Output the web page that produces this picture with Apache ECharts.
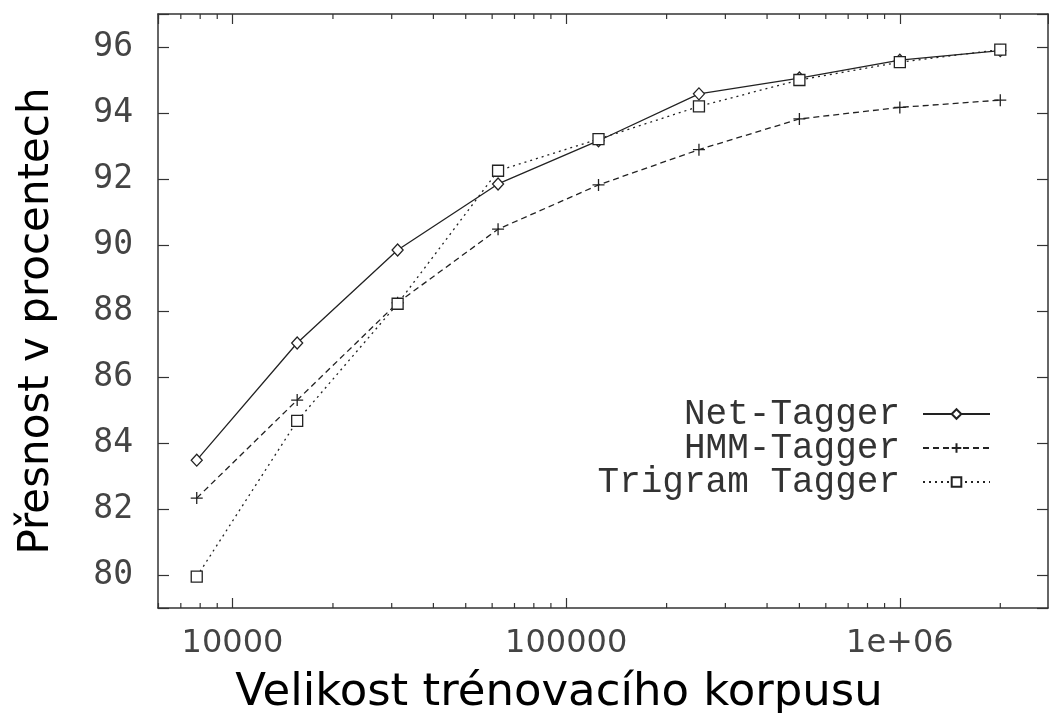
<!DOCTYPE html>
<html>
<head>
<meta charset="utf-8">
<script src="https://cdn.jsdelivr.net/npm/echarts@6/dist/echarts.min.js"></script>
<style>
  html, body { margin: 0; padding: 0; background: #fff; }
  #chart { width: 1049px; height: 713px; }
</style>
</head>
<body>
<div id="chart"></div>
<script>
// velikost korpusu (pocet slov)
var corpusSizes = [7812.5, 15625, 31250, 62500, 125000, 250000, 500000, 1000000, 2000000];
var netTagger = [83.48, 87.03, 89.85, 91.85, 93.16, 94.58, 95.06, 95.6, 95.89];
var hmmTagger = [82.33, 85.3, 88.25, 90.48, 91.82, 92.89, 93.82, 94.17, 94.39];
var trigramTagger = [79.95, 84.67, 88.22, 92.25, 93.21, 94.2, 95.0, 95.54, 95.92];

var xTickValues = [10000, 100000, 1000000];
var xTickLabels = ['10000', '100000', '1e+06'];
var xMinorTicks = [6000, 7000, 8000, 9000, 20000, 30000, 40000, 50000, 60000, 70000, 80000, 90000,
    200000, 300000, 400000, 500000, 600000, 700000, 800000, 900000, 2000000];
var yTickValues = [80, 82, 84, 86, 88, 90, 92, 94, 96];

var xMin = 5980, xMax = 2780000;
var yMin = 79, yMax = 97;

function pairs(vals) {
    return corpusSizes.map(function (s, i) { return [s, vals[i]]; });
}

var axisColor = '#333';
var lineColor = '#222';

var chart = echarts.init(document.getElementById('chart'));

var xAxisBase = {
    type: 'log',
    logBase: 10,
    min: xMin,
    max: xMax,
    splitLine: { show: false },
    axisLine: { show: true, lineStyle: { color: axisColor, width: 1.5 } },
    axisTick: { show: true, inside: true, length: 10, lineStyle: { color: axisColor, width: 1.2 } }
};
var yAxisBase = {
    type: 'value',
    min: yMin,
    max: yMax,
    splitNumber: 9,
    splitLine: { show: false },
    axisLine: { show: true, lineStyle: { color: axisColor, width: 1.5 } },
    axisTick: { show: true, inside: true, length: 11, lineStyle: { color: axisColor, width: 1.2 } }
};

var option = {
    animation: false,
    backgroundColor: '#fff',
    grid: { left: 158, right: 1, top: 14, bottom: 105, containLabel: false, outerBoundsMode: 'none' },
    xAxis: [
        Object.assign({}, xAxisBase, {
            position: 'bottom',
            name: 'Velikost trénovacího korpusu',
            nameLocation: 'middle',
            nameGap: 63,
            nameTextStyle: { fontFamily: 'DejaVu Sans', fontSize: 45, color: '#000', padding: [0, 88, 0, 0] },
            axisLabel: {
                show: true,
                margin: 20,
                fontFamily: 'DejaVu Sans',
                fontSize: 32,
                color: '#444',
                showMinLabel: false,
                showMaxLabel: false,
                formatter: function (v) {
                    for (var i = 0; i < xTickValues.length; i++) {
                        if (Math.abs(v - xTickValues[i]) < 1e-6 * xTickValues[i]) return xTickLabels[i];
                    }
                    return '';
                }
            }
        }),
        Object.assign({}, xAxisBase, {
            position: 'top',
            axisLabel: { show: false }
        })
    ],
    yAxis: [
        Object.assign({}, yAxisBase, {
            position: 'left',
            name: 'Přesnost v procentech',
            nameLocation: 'middle',
            nameGap: 100,
            nameTextStyle: { fontFamily: 'DejaVu Sans', fontSize: 42, color: '#000', padding: [0, 20, 0, 0] },
            axisLabel: {
                margin: 25,
                fontFamily: 'DejaVu Sans Mono',
                fontSize: 33,
                color: '#444',
                formatter: function (v) {
                    return yTickValues.indexOf(v) >= 0 ? String(v) : '';
                }
            }
        }),
        Object.assign({}, yAxisBase, {
            position: 'right',
            axisLabel: { show: false }
        })
    ],
    legend: {
        orient: 'vertical',
        right: 53,
        top: 391,
        align: 'right',
        itemWidth: 67,
        itemHeight: 12,
        itemGap: -2,
        data: ['Net-Tagger', 'HMM-Tagger', 'Trigram Tagger'],
        textStyle: {
            fontFamily: 'Liberation Mono',
            fontSize: 36,
            lineHeight: 33,
            color: '#333',
            padding: [0, 18, 0, 0]
        }
    },
    series: [
        {
            name: 'Net-Tagger',
            type: 'line',
            data: pairs(netTagger),
            symbol: 'diamond',
            symbolSize: [11, 12],
            lineStyle: { color: lineColor, width: 1.3, type: 'solid' },
            itemStyle: { color: '#fff', borderColor: lineColor, borderWidth: 1.3 },
            z: 3
        },
        {
            name: 'HMM-Tagger',
            type: 'line',
            data: pairs(hmmTagger),
            symbol: 'path://M0,-1L0,1M-1,0L1,0',
            symbolSize: 12,
            lineStyle: { color: lineColor, width: 1.3, type: [6, 4] },
            itemStyle: { color: '#fff', borderColor: lineColor, borderWidth: 1.3 },
            z: 2
        },
        {
            name: 'Trigram Tagger',
            type: 'line',
            data: pairs(trigramTagger),
            symbol: 'rect',
            symbolSize: 11,
            lineStyle: { color: lineColor, width: 1.3, type: [2, 4] },
            itemStyle: { color: '#fff', borderColor: lineColor, borderWidth: 1.3 },
            z: 4
        },
        {
            // vedlejsi znacky na logaritmicke ose
            type: 'custom',
            silent: true,
            xAxisIndex: 0,
            yAxisIndex: 0,
            data: xMinorTicks.map(function (v) { return [v, yMin]; }),
            renderItem: function (params, api) {
                var v = api.value(0);
                var b = api.coord([v, yMin]);
                var t = api.coord([v, yMax]);
                var st = { stroke: axisColor, lineWidth: 1.2 };
                return {
                    type: 'group',
                    children: [
                        { type: 'line', shape: { x1: b[0], y1: b[1], x2: b[0], y2: b[1] - 5 }, style: st },
                        { type: 'line', shape: { x1: t[0], y1: t[1], x2: t[0], y2: t[1] + 5 }, style: st }
                    ]
                };
            }
        }
    ]
};

chart.setOption(option);
window.onresize = function () {
    chart.resize();
};
</script>
</body>
</html>
